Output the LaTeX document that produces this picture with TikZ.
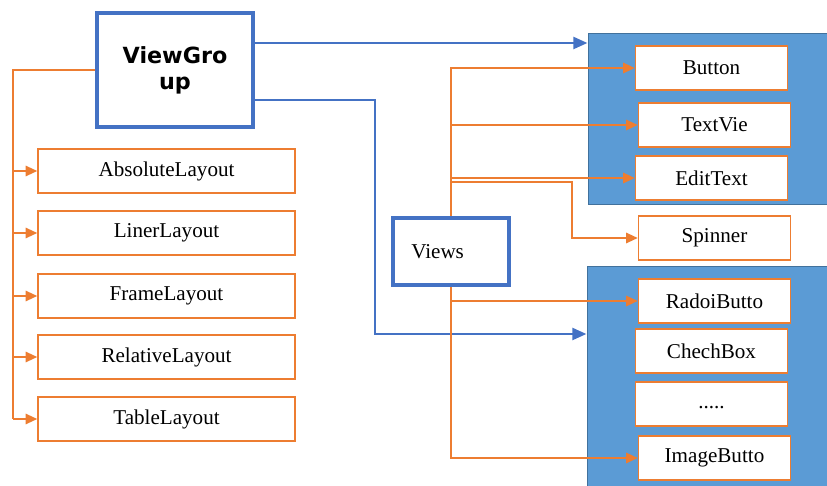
\documentclass[tikz,border=0pt]{standalone}
\usepackage{fontspec}
\setmainfont{Liberation Serif}
\newfontfamily\vgfont{DejaVu Sans}
\usetikzlibrary{arrows.meta,calc}
\definecolor{orng}{HTML}{ED7D31}
\definecolor{frameblue}{HTML}{4472C4}
\definecolor{panelblue}{HTML}{5B9BD5}
\definecolor{paneledge}{HTML}{41719C}

\begin{document}
\begin{tikzpicture}[x=0.03cm,y=-0.03cm,
	item/.style={draw=orng,line width=1.3pt,fill=white,minimum width=4.56cm,minimum height=1.32cm,inner sep=0pt,font=\fontsize{18}{21}\selectfont},
	layout/.style={item,minimum width=7.71cm},
	panel/.style={draw=paneledge,line width=0.8pt,fill=panelblue,inner sep=0pt},
	oline/.style={orng,line width=1.3pt},
	oarrow/.style={oline,-{Triangle[length=10pt,width=9pt]}},
	bline/.style={frameblue,line width=2.4pt,-{Triangle[length=12pt,width=10pt]}}]
					\useasboundingbox (0,0) rectangle (827,486);
					\node[panel,minimum width=7.26cm,minimum height=5.13cm] (top) at (709,118.5) {};
					\node[panel,minimum width=7.29cm,minimum height=6.72cm] (bot) at (708.5,378) {};
					\node[draw=frameblue,line width=3.5pt,minimum width=4.68cm,minimum height=3.42cm,align=center,font=\vgfont\bfseries\fontsize{19}{22}\selectfont] (vg) at (175,70) {ViewGro\\up};
					\node[draw=frameblue,line width=3.5pt,text width=2.38cm,inner xsep=0.55cm,minimum height=2.01cm,align=left,font=\fontsize{18}{21}\selectfont] (views) at (451,251.5) {Views};
					\node[layout] (abs) at (166.5,171) {AbsoluteLayout};
					\node[layout] (lin) at (166.5,233) {LinerLayout};
					\node[layout] (frm) at (166.5,296) {FrameLayout};
					\node[layout] (rel) at (166.5,357) {RelativeLayout};
					\node[layout] (tbl) at (166.5,419) {TableLayout};
					\node[item] (btn) at (711.5,68) {Button};
					\node[item] (tv) at (714.5,125) {TextVie};
					\node[item] (et) at (711.5,178) {EditText};
					\node[item] (sp) at (714.5,238) {Spinner};
					\node[item] (rb) at (714.5,301) {RadoiButto};
					\node[item] (cb) at (711.5,351) {ChechBox};
					\node[item] (dots) at (711.5,404) {\raisebox{-0.25cm}{.....}};
					\node[item] (ib) at (714.5,458) {ImageButto};
					\coordinate (vgA) at ([yshift=0.81cm]vg.east);
					\coordinate (vgB) at ([yshift=-0.9cm]vg.east);
					\coordinate (bend) at (375,334);
					\draw[bline] (vgA) -- (vgA -| top.west);
					\draw[bline] (vgB) -| (bend) -- (bend -| bot.west);
					\draw[oline] (vg.west) -| ([xshift=-0.72cm]tbl.west);
					\foreach \n in {abs,lin,frm,rel,tbl}
						\draw[oarrow] ([xshift=-0.72cm]\n.west) -- (\n.west);
					\draw[oarrow] (views.north) |- (btn.west);
					\foreach \n in {tv,et}
						\draw[oarrow] (views.north |- \n.west) -- (\n.west);
					\coordinate (spA) at ($(views.north |- et.west)+(0,4)$);
					\draw[oarrow] (spA) -| ($(sp.west)+(-66,0)$) -- (sp.west);
					\draw[oarrow] (views.south) |- (ib.west);
					\draw[oarrow] (views.south |- rb.west) -- (rb.west);
\end{tikzpicture}
\end{document}
